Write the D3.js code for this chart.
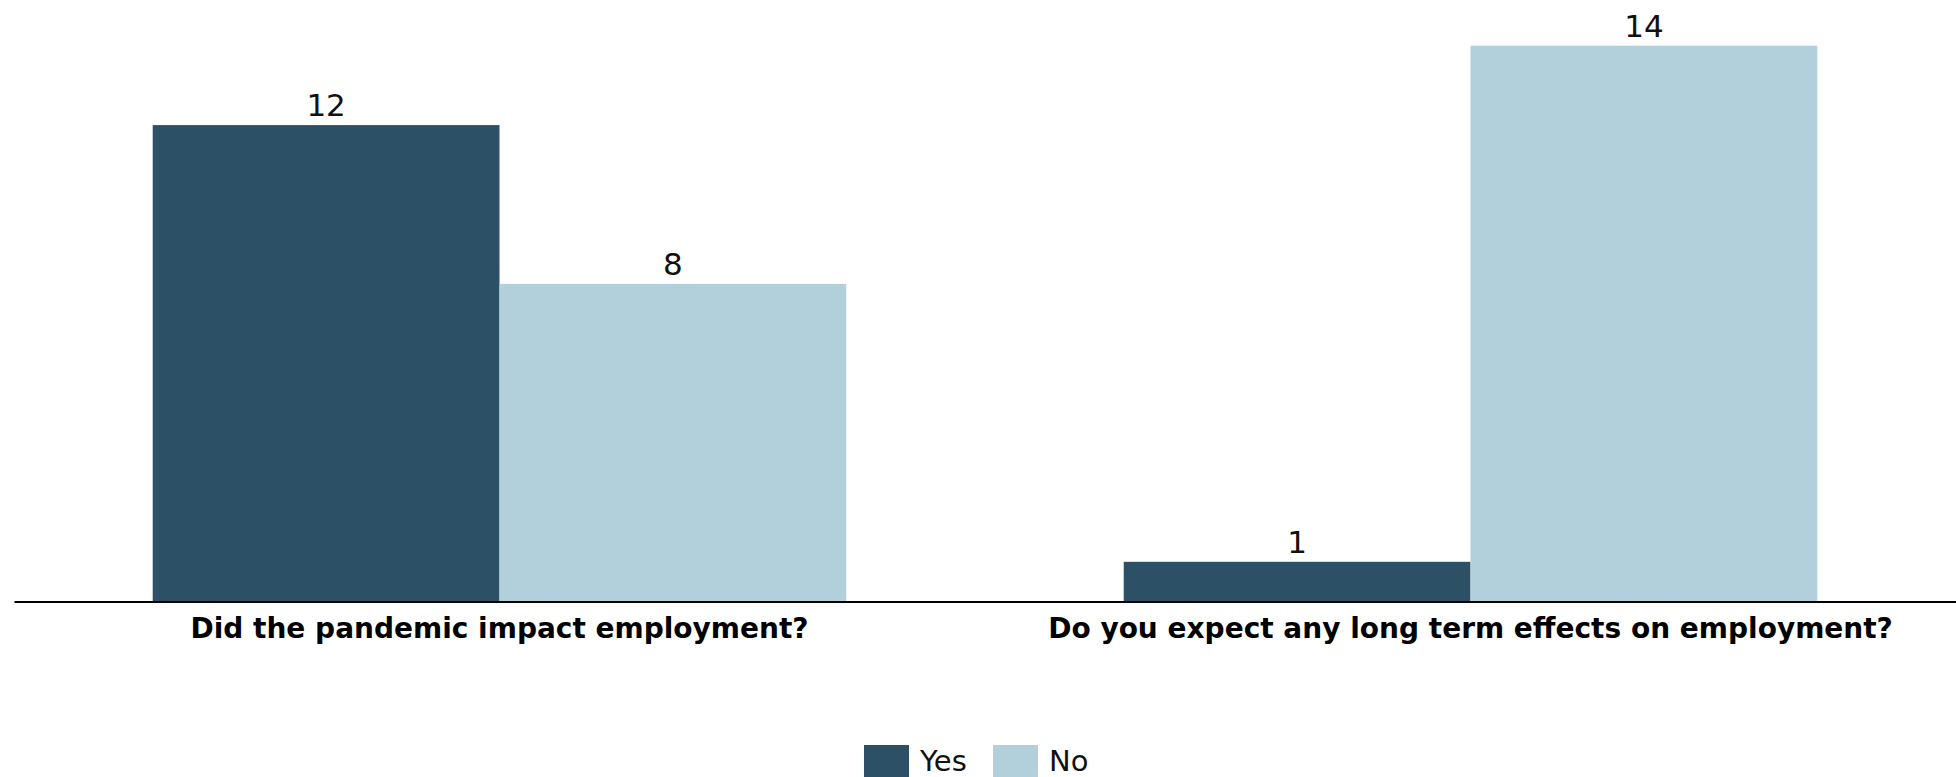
<!DOCTYPE html>
<html>
<head>
<meta charset="utf-8">
<script src="https://cdn.jsdelivr.net/npm/d3@7"></script>
<style>
  html, body { margin: 0; padding: 0; background: #ffffff; overflow: hidden; }
  svg { display: block; }
</style>
</head>
<body>
<svg id="chart" width="1956" height="777"></svg>
<script>
const categories = ["Did the pandemic impact employment?", "Do you expect any long term effects on employment?"];
const seriesNames = ["Yes", "No"];
const yesValues = [12, 1];
const noValues = [8, 14];
const seriesColors = ["#2C5066", "#B1D0DB"];

const W = 1956, H = 777;
const svg = d3.select("#chart");
const baseY = 601.5;

const x0 = d3.scaleBand().domain(categories).range([14, 1956]).paddingInner(0).paddingOuter(0);
const x1 = d3.scaleBand().domain(seriesNames).range([0, x0.bandwidth()]).paddingInner(0).paddingOuter(0.4);
const y = d3.scaleLinear().domain([0, 15]).range([baseY, 6]);
const color = d3.scaleOrdinal().domain(seriesNames).range(seriesColors);

const valuesBySeries = { "Yes": yesValues, "No": noValues };
const rows = [];
categories.forEach((c, i) => {
  seriesNames.forEach(s => rows.push({ cat: c, series: s, value: valuesBySeries[s][i] }));
});

const g = svg.append("g");
g.selectAll("rect.bar").data(rows).join("rect")
  .attr("class", "bar")
  .attr("x", d => x0(d.cat) + x1(d.series))
  .attr("y", d => y(d.value))
  .attr("width", x1.bandwidth())
  .attr("height", d => y(0) - y(d.value))
  .attr("fill", d => color(d.series));

g.selectAll("text.val").data(rows).join("text")
  .attr("class", "val")
  .attr("x", d => x0(d.cat) + x1(d.series) + x1.bandwidth() / 2)
  .attr("y", d => y(d.value) - 9)
  .attr("text-anchor", "middle")
  .attr("font-family", "DejaVu Sans")
  .attr("font-size", 31)
  .attr("fill", "#111")
  .text(d => d.value);

// x axis
const xAxis = d3.axisBottom(x0).tickSize(0).tickPadding(0);
const ax = svg.append("g").attr("transform", `translate(0,${baseY})`).call(xAxis);
ax.select(".domain").attr("stroke", "#000").attr("stroke-width", 2);
ax.selectAll(".tick text")
  .attr("dy", 0)
  .attr("y", 36)
  .attr("font-family", "DejaVu Sans")
  .attr("font-weight", "bold")
  .attr("font-size", 28)
  .attr("fill", "#000");

// legend
const legendItems = [
  { name: seriesNames[0], x: 864, tx: 920 },
  { name: seriesNames[1], x: 993, tx: 1049 }
];
const lg = svg.append("g");
lg.selectAll("rect").data(legendItems).join("rect")
  .attr("x", d => d.x).attr("y", 745).attr("width", 45).attr("height", 45)
  .attr("fill", d => color(d.name));
lg.selectAll("text").data(legendItems).join("text")
  .attr("x", d => d.tx).attr("y", 771)
  .attr("font-family", "DejaVu Sans")
  .attr("font-size", 29)
  .attr("fill", "#111")
  .text(d => d.name);
</script>
</body>
</html>
